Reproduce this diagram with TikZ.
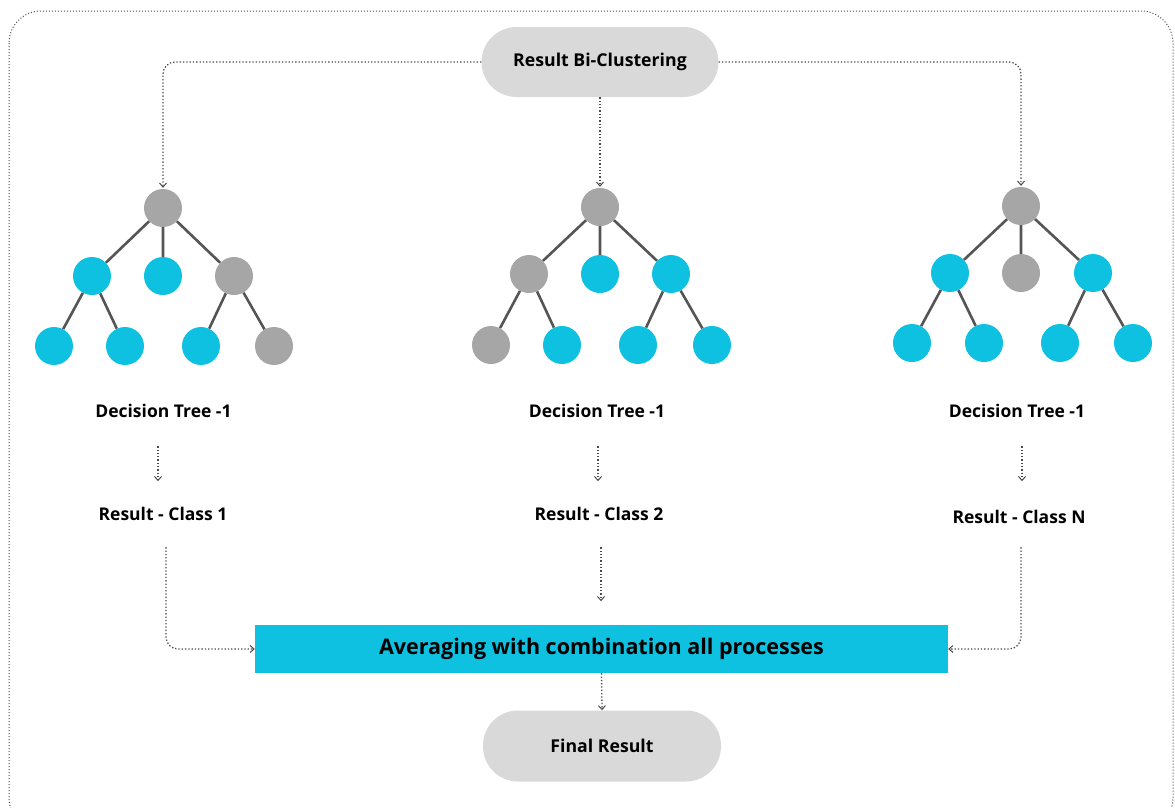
\documentclass[tikz,border=0pt]{standalone}
\usepackage{fontspec}
\setmainfont{Open Sans}
\usetikzlibrary{arrows.meta,calc}
\definecolor{cyanN}{HTML}{0EC1E0}
\definecolor{grayN}{HTML}{A6A6A6}
\definecolor{pillG}{HTML}{D9D9D9}
\definecolor{edgeG}{HTML}{555555}
\definecolor{dotG}{HTML}{4A4A4A}
\begin{document}
\begin{tikzpicture}[x=1pt,y=-1pt,
  cn/.style={circle,fill=cyanN,minimum size=38pt,inner sep=0pt},
  gn/.style={circle,fill=grayN,minimum size=38pt,inner sep=0pt},
  edge/.style={draw=edgeG,line width=2.6pt},
  pill/.style={rounded corners=35pt,fill=pillG,minimum width=237pt,minimum height=70pt,font=\bfseries\fontsize{17.7}{21}\selectfont},
  lbl/.style={font=\bfseries\fontsize{17.5}{21}\selectfont,minimum height=70pt,inner sep=0pt},
  conn/.style={draw=dotG,line width=1.3pt,dotted,rounded corners=12pt,-{Straight Barb[length=4pt,width=7pt,line width=1pt]}}
]
\useasboundingbox (0,0) rectangle (1175,807);
\draw[draw=dotG,line width=1pt,dotted,rounded corners=32pt] (9,11) rectangle (1173,830);

% top and bottom pills
\node[pill] (top) at (600,62) {Result Bi-Clustering};
\node[pill,minimum width=238pt,minimum height=71pt] (fin) at (602,746) {Final Result};
\node[fill=cyanN,minimum width=693pt,minimum height=48pt,inner sep=0pt,font=\bfseries\fontsize{21.5}{25}\selectfont] (avg) at (601.5,649) {Averaging with combination all processes};

% tree 1
\node[gn] (a0) at (163,208) {};
\node[cn] (a1) at (92,276) {};
\node[cn] (a2) at (163,276) {};
\node[gn] (a3) at (234,276) {};
\node[cn] (a4) at (54,346) {};
\node[cn] (a5) at (125,346) {};
\node[cn] (a6) at (201,346) {};
\node[gn] (a7) at (274,346) {};
\path[edge] (a0)--(a1) (a0)--(a2) (a0)--(a3) (a1)--(a4) (a1)--(a5) (a3)--(a6) (a3)--(a7);

% tree 2
\node[gn] (b0) at (600,207) {};
\node[gn] (b1) at (529,274) {};
\node[cn] (b2) at (600,274) {};
\node[cn] (b3) at (671,274) {};
\node[gn] (b4) at (491,345) {};
\node[cn] (b5) at (562,345) {};
\node[cn] (b6) at (638,345) {};
\node[cn] (b7) at (712,345) {};
\path[edge] (b0)--(b1) (b0)--(b2) (b0)--(b3) (b1)--(b4) (b1)--(b5) (b3)--(b6) (b3)--(b7);

% tree 3
\node[gn] (c0) at (1021,206) {};
\node[cn] (c1) at (950,273) {};
\node[gn] (c2) at (1021,273) {};
\node[cn] (c3) at (1093,273) {};
\node[cn] (c4) at (912,343) {};
\node[cn] (c5) at (984,343) {};
\node[cn] (c6) at (1060,343) {};
\node[cn] (c7) at (1133,343) {};
\path[edge] (c0)--(c1) (c0)--(c2) (c0)--(c3) (c1)--(c4) (c1)--(c5) (c3)--(c6) (c3)--(c7);

% labels
\node[lbl] (d1) at (163.5,411) {Decision Tree -1};
\node[lbl] (d2) at (597,411) {Decision Tree -1};
\node[lbl] (d3) at (1017,411) {Decision Tree -1};
\node[lbl] (r1) at (163,514) {Result - Class 1};
\node[lbl] (r2) at (599,514) {Result - Class 2};
\node[lbl] (r3) at (1019,517) {Result - Class N};

% connectors
\draw[conn,shorten >=1pt] (top.west) -| (a0.north);
\draw[conn,shorten >=1pt] (top.east) -| (c0.north);
\draw[conn,shorten >=1pt] (top.south) -- (top.south |- b0.north);
\draw[conn] ($(d1.south)+(-5.5,0)$) -- ($(d1.south)+(-5.5,35)$);
\draw[conn] ($(d2.south)+(1,0)$) -- ($(d2.south)+(1,35)$);
\draw[conn] ($(d3.south)+(5,0)$) -- ($(d3.south)+(5,35)$);
\draw[conn] ($(d1.south)+(2.5,101)$) |- (avg.west);
\draw[conn] ($(d3.south)+(4,101)$) |- (avg.east);
\draw[conn] ($(d2.south)+(4,101)$) -- ($(d2.south)+(4,155)$);
\draw[conn] (avg.south) -- (fin.north);
\end{tikzpicture}
\end{document}
